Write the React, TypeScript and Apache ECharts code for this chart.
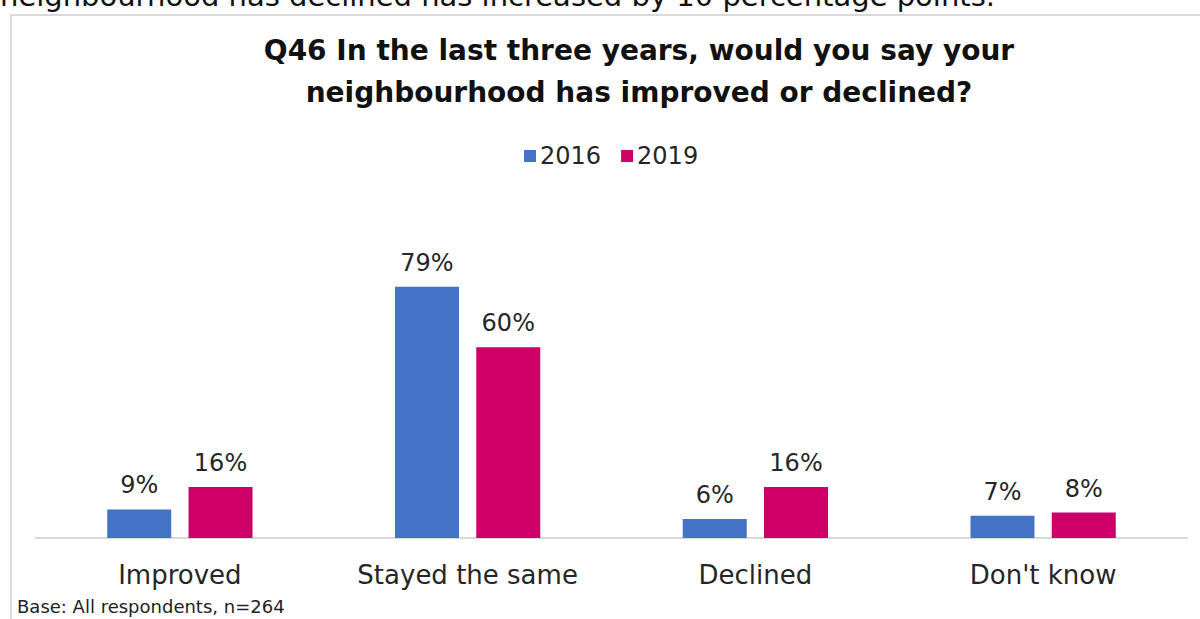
import React, { useEffect, useRef } from "react";
import * as echarts from "echarts";

const categories = ["Improved", "Stayed the same", "Declined", "Don't know"];
const series2016 = [9, 79, 6, 7];
const series2019 = [16, 60, 16, 8];
const seriesNames = ["2016", "2019"];
const titleLines = ["Q46 In the last three years, would you say your", "neighbourhood has improved or declined?"];
const topText = "neighbourhood has declined has increased by 10 percentage points.";
const baseNote = "Base: All respondents, n=264";

const FONT = "'DejaVu Sans', 'Noto Sans', sans-serif";

export default function App() {
  const ref = useRef<HTMLDivElement>(null);
  useEffect(() => {
    if (!ref.current) return;
    const chart = echarts.init(ref.current, undefined, { renderer: "svg" });
    const label = {
      show: true,
      position: "top",
      distance: 12,
      formatter: "{c}%",
      fontSize: 24,
      color: "#262626",
      fontFamily: FONT,
    };
    chart.setOption({
      animation: false,
      backgroundColor: "#ffffff",
      title: {
        text: titleLines.join("\n"),
        left: 634,
        textAlign: "center",
        top: 24,
        textStyle: { fontSize: 28, fontWeight: "bold", color: "#111", fontFamily: FONT, lineHeight: 42 },
      },
      legend: {
        data: seriesNames,
        left: 519,
        top: 139,
        itemWidth: 12,
        itemHeight: 12,
        itemGap: 20,
        icon: "rect",
        textStyle: { fontSize: 24, color: "#262626", fontFamily: FONT, padding: [0, 0, 0, -1] },
      },
      grid: { left: 36, right: 13, top: 220, bottom: 81, containLabel: false },
      xAxis: {
        type: "category",
        data: categories,
        axisLine: { lineStyle: { color: "#d9d9d9", width: 2 } },
        axisTick: { show: false },
        axisLabel: { fontSize: 26, color: "#262626", fontFamily: FONT, margin: 24 },
      },
      yAxis: {
        type: "value",
        min: 0,
        max: 100,
        show: false,
        splitLine: { show: false },
      },
      series: [
        {
          name: seriesNames[0],
          type: "bar",
          data: series2016,
          barWidth: 64,
          barGap: "27%",
          itemStyle: { color: "#4472C4" },
          label,
        },
        {
          name: seriesNames[1],
          type: "bar",
          data: series2019,
          barWidth: 64,
          itemStyle: { color: "#CC0066" },
          label,
        },
      ],
      graphic: [
        {
          type: "rect",
          shape: { x: 11, y: 15, width: 1220, height: 640 },
          style: { fill: "none", stroke: "#d9d9d9", lineWidth: 2 },
          z: -1,
        },
        {
          type: "text",
          x: 0,
          y: 10,
          style: {
            text: topText,
            fontSize: 29,
            fill: "#111",
            fontFamily: FONT,
            textVerticalAlign: "bottom",
          },
        },
        {
          type: "text",
          x: 17,
          y: 606,
          style: {
            text: baseNote,
            fontSize: 18,
            fill: "#222",
            fontFamily: FONT,
            textVerticalAlign: "middle",
          },
        },
      ],
    });
    return () => chart.dispose();
  }, []);
  return (
    <div
      ref={ref}
      style={{ position: "fixed", left: 0, top: 0, width: 1200, height: 619, background: "#fff" }}
    />
  );
}
